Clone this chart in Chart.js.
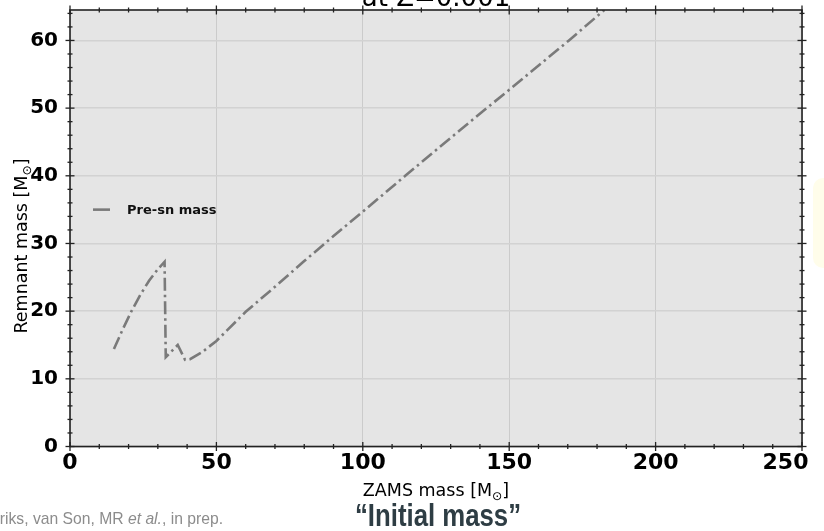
<!DOCTYPE html>
<html><head><meta charset="utf-8">
<script src="https://cdn.jsdelivr.net/npm/chart.js@4/dist/chart.umd.min.js"></script>
<style>
html,body{margin:0;padding:0;background:#fff;overflow:hidden}
#wrap{position:relative;width:824px;height:531px;overflow:hidden}
canvas{position:absolute;left:0;top:0}
#note{position:absolute;left:813px;top:178px;width:40px;height:90px;background:#fffdea;border-radius:10px}
</style></head><body>
<div id="wrap"><div id="note"></div><canvas id="c" width="824" height="531"></canvas></div>
<script>
// ---- data ----
const zamsMass  = [15, 18, 21, 24, 27, 30, 32.3, 32.7, 36.8, 39.3, 41, 45, 50, 60, 70, 80, 90, 100, 114.5, 130, 142.3, 150, 170.4, 182.5];
const preSnMass = [14.4, 17.3, 20.0, 22.4, 24.5, 26.2, 27.3, 13.2, 15.0, 12.8, 12.9, 13.9, 15.6, 19.9, 23.6, 27.4, 31.1, 34.7, 40.0, 45.6, 50.0, 52.7, 60.0, 64.5];
const xTicks = [0, 50, 100, 150, 200, 250];
const yTicks = [0, 10, 20, 30, 40, 50, 60];
const xMinorStep = 10;
const yMinorStep = 2;
const seriesLabel = 'Pre-sn mass';
const titleText = 'at Z=0.001';
const xTitleParts = ['ZAMS mass [M', '⊙', ']'];
const yTitleParts = ['Remnant mass [M', '⊙', ']'];
const bigCaption = '\u201CInitial mass\u201D';
const creditText = 'Hendriks, van Son, MR ';
const creditItalic = 'et al.';
const creditTail = ', in prep.';

const LINE_COLOR = '#7a7a7a';

function drawMixed(ctx, parts, x, y, size, align) {
  const subSize = size * 0.7;
  const f1 = size + 'px "DejaVu Sans"';
  const f2 = subSize + 'px "DejaVu Sans"';
  ctx.font = f1; const w0 = ctx.measureText(parts[0]).width;
  ctx.font = f2; const w1 = ctx.measureText(parts[1]).width;
  ctx.font = f1; const w2 = ctx.measureText(parts[2]).width;
  const total = w0 + w1 + w2;
  let sx = align === 'center' ? x - total / 2 : x;
  ctx.textAlign = 'left'; ctx.textBaseline = 'alphabetic';
  ctx.font = f1; ctx.fillText(parts[0], sx, y);
  ctx.font = f2; ctx.fillText(parts[1], sx + w0, y + size * 0.22);
  ctx.font = f1; ctx.fillText(parts[2], sx + w0 + w1, y);
}

const decor = {
  id: 'decor',
  beforeDraw(chart) {
    const {ctx, chartArea: a} = chart;
    ctx.save();
    ctx.fillStyle = '#e5e5e5';
    ctx.fillRect(a.left, a.top, a.right - a.left, a.bottom - a.top);
    ctx.restore();
  },
  afterDraw(chart) {
    const {ctx, chartArea: a, scales: {x, y}} = chart;
    ctx.save();
    ctx.strokeStyle = '#222'; ctx.lineWidth = 1.6;
    ctx.strokeRect(a.left, a.top, a.right - a.left, a.bottom - a.top);
    ctx.lineWidth = 1.3;
    const tick = (x1, y1, x2, y2) => { ctx.beginPath(); ctx.moveTo(x1, y1); ctx.lineTo(x2, y2); ctx.stroke(); };
    for (let v = x.min; v <= x.max + 1e-9; v += xMinorStep) {
      const px = x.getPixelForValue(v);
      const L = xTicks.includes(v) ? 4.5 : 2.5;
      tick(px, a.bottom - L, px, a.bottom + L);
      tick(px, a.top - L, px, a.top + L);
    }
    for (let v = 0; v <= y.max + 1e-9; v += yMinorStep) {
      const py = y.getPixelForValue(v);
      const L = yTicks.includes(v) ? 4.5 : 2.5;
      tick(a.left - L, py, a.left + L, py);
      tick(a.right - L, py, a.right + L, py);
    }
    // legend
    const ly = y.getPixelForValue(35);
    ctx.strokeStyle = LINE_COLOR; ctx.lineWidth = 2.6;
    tick(a.left + 23, ly, a.left + 40, ly);
    ctx.fillStyle = '#111';
    ctx.font = 'bold 13px "DejaVu Sans"';
    ctx.textAlign = 'left'; ctx.textBaseline = 'alphabetic';
    ctx.fillText(chart.data.datasets[0].label, a.left + 57, ly + 4.7);
    // title (cut at top)
    ctx.fillStyle = '#000';
    ctx.font = '26px "DejaVu Sans"';
    ctx.textAlign = 'center';
    ctx.fillText(titleText, (a.left + a.right) / 2, 6);
    // axis titles
    drawMixed(ctx, xTitleParts, (a.left + a.right) / 2, 496, 17.5, 'center');
    ctx.save();
    ctx.translate(27, 246);
    ctx.rotate(-Math.PI / 2);
    drawMixed(ctx, yTitleParts, 0, 0, 17.5, 'center');
    ctx.restore();
    // big caption (condensed bold)
    ctx.save();
    ctx.fillStyle = '#2e3d44';
    ctx.font = 'bold 31px "Liberation Sans"';
    ctx.textAlign = 'left';
    const bw = ctx.measureText(bigCaption).width;
    const sc = 166 / bw;
    ctx.translate(355, 526);
    ctx.scale(sc, 1);
    ctx.fillText(bigCaption, 0, 0);
    ctx.restore();
    // credit line
    ctx.fillStyle = '#8c8c8c';
    const fs = 15.7;
    ctx.textAlign = 'left';
    ctx.font = fs + 'px "Liberation Sans"';
    const wTail = ctx.measureText(creditTail).width;
    const wHead = ctx.measureText(creditText).width;
    ctx.font = 'italic ' + fs + 'px "Liberation Sans"';
    const wIt = ctx.measureText(creditItalic).width;
    const endX = 223;
    const sx = endX - wTail - wIt - wHead;
    ctx.font = fs + 'px "Liberation Sans"';
    ctx.fillText(creditText, sx, 524);
    ctx.font = 'italic ' + fs + 'px "Liberation Sans"';
    ctx.fillText(creditItalic, sx + wHead, 524);
    ctx.font = fs + 'px "Liberation Sans"';
    ctx.fillText(creditTail, sx + wHead + wIt, 524);
    ctx.restore();
  }
};

new Chart(document.getElementById('c'), {
  type: 'scatter',
  data: {
    datasets: [{
      label: seriesLabel,
      data: zamsMass.map((m, i) => ({x: m, y: preSnMass[i]})),
      showLine: true,
      borderColor: LINE_COLOR,
      borderWidth: 2.6,
      borderDash: [13, 4, 2.5, 4],
      pointRadius: 0,
      tension: 0,
      fill: false
    }]
  },
  options: {
    responsive: false,
    devicePixelRatio: 1,
    animation: false,
    layout: {padding: {left: 0, right: 22, top: 10, bottom: 0}},
    plugins: {legend: {display: false}, title: {display: false}, tooltip: {enabled: false}},
    scales: {
      x: {
        type: 'linear', min: 0, max: 250,
        afterBuildTicks: s => { s.ticks = xTicks.map(v => ({value: v})); },
        afterFit: s => { s.height = 84.5; s.paddingLeft = 0; s.paddingRight = 0; },
        grid: {color: '#cbcbcb', lineWidth: 1, drawTicks: false},
        border: {display: false},
        ticks: {
          font: {family: 'DejaVu Sans', size: 22, weight: 'bold'}, color: '#000', padding: 4, maxRotation: 0,
          callback: v => v === 250 ? String(v) + '\u2002\u2002\u2002' : String(v)
        }
      },
      y: {
        type: 'linear', min: 0, max: 64.5,
        afterBuildTicks: s => { s.ticks = yTicks.map(v => ({value: v})); },
        afterFit: s => { s.width = 70; s.paddingTop = 0; s.paddingBottom = 0; },
        grid: {color: '#d2d2d2', lineWidth: 1.5, drawTicks: false},
        border: {display: false},
        ticks: {font: {family: 'DejaVu Sans', size: 20, weight: 'bold'}, color: '#000', padding: 12}
      }
    }
  },
  plugins: [decor]
});
</script>
</body></html>
